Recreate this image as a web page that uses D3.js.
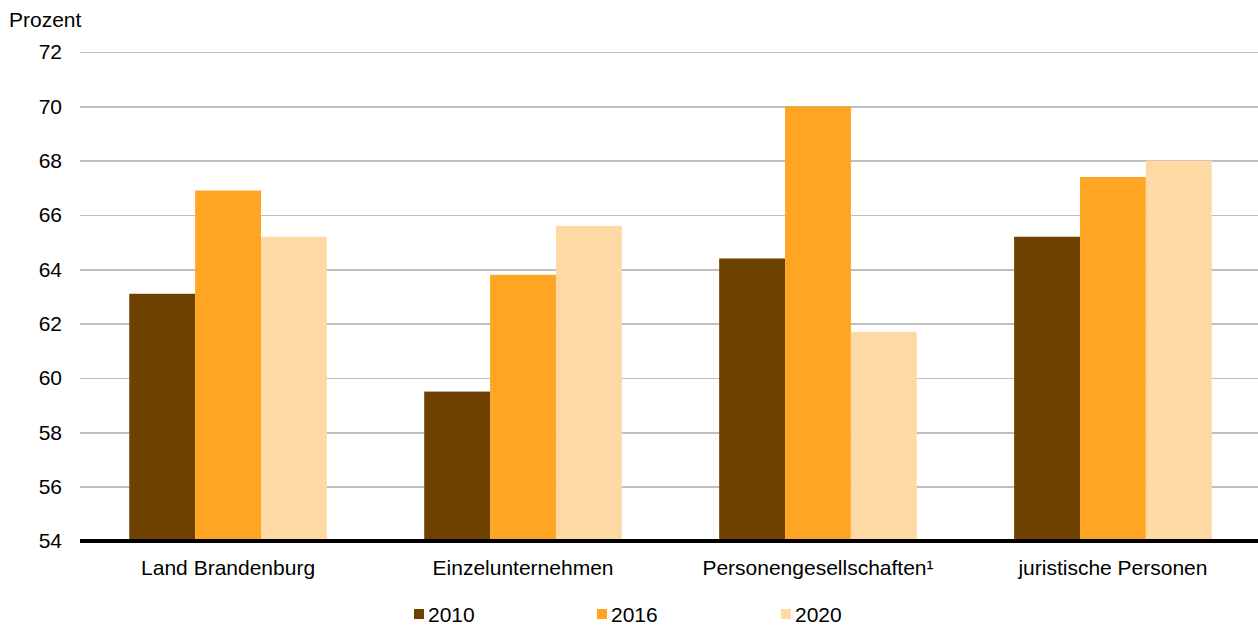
<!DOCTYPE html>
<meta charset="utf-8">
<title>Prozent</title>
<style>
    body {
        margin: 0;
        font: 21px "Liberation Sans", Arial, sans-serif;
        background: #fff;
    }
    .grid line {
        stroke: #bfbfbf;
        stroke-width: 1.5;
        shape-rendering: crispEdges;
    }
    .grid path { display: none; }
    text { fill: #000; }
</style>
<body>
<div id="chart"></div>
<script src="https://cdnjs.cloudflare.com/ajax/libs/d3/7.8.5/d3.min.js"></script>
<script>
var categories = ["Land Brandenburg", "Einzelunternehmen", "Personengesellschaften\u00b9", "juristische Personen"];
var years = ["2010", "2016", "2020"];
var values2010 = [63.1, 59.5, 64.4, 65.2];
var values2016 = [66.9, 63.8, 70.0, 67.4];
var values2020 = [65.2, 65.6, 61.7, 68.0];
var yTicks = [54, 56, 58, 60, 62, 64, 66, 68, 70, 72];
var colors = ["#6e4100", "#fea623", "#fed9a3"];

var series = [values2010, values2016, values2020];
var rows = categories.map(function(c, i) {
    return { cat: c, vals: years.map(function(y, j) { return { year: y, v: series[j][i], k: j }; }) };
});

var width = 1258, height = 625,
    margin = { top: 52, right: 0, bottom: 84, left: 80 };
var innerW = width - margin.left - margin.right,
    innerH = height - margin.top - margin.bottom;

var svg = d3.select("#chart").append("svg")
    .attr("width", width)
    .attr("height", height);

var g = svg.append("g")
    .attr("transform", "translate(" + margin.left + "," + margin.top + ")");

// category band runs slightly past the right edge, as in the original
var x0 = d3.scaleBand().domain(categories).range([0, innerW + 3])
    .paddingInner(0.33).paddingOuter(0.167);
var x1 = d3.scaleBand().domain(years).range([0, x0.bandwidth()]);
var y = d3.scaleLinear().domain([54, 72]).range([innerH, 0]);

// gridlines
g.append("g")
    .attr("class", "grid")
    .call(d3.axisLeft(y).tickValues(yTicks.slice(1)).tickSize(-innerW).tickFormat(""));

// y axis labels
g.append("g")
    .attr("class", "y axis")
    .call(d3.axisLeft(y).tickValues(yTicks).tickSize(0).tickPadding(18))
    .call(function(a) { a.selectAll("text").style("font-size", "21px").attr("fill", "#000"); })
    .call(function(a) { a.select(".domain").remove(); });

// bars
var grp = g.selectAll(".cat")
    .data(rows)
    .enter().append("g")
    .attr("class", "cat")
    .attr("transform", function(d) { return "translate(" + x0(d.cat) + ",0)"; });

grp.selectAll("rect")
    .data(function(d) { return d.vals; })
    .enter().append("rect")
    .attr("x", function(d) { return x1(d.year); })
    .attr("y", function(d) { return y(d.v); })
    .attr("width", x1.bandwidth())
    .attr("height", function(d) { return innerH - y(d.v); })
    .style("fill", function(d) { return colors[d.k]; });

// baseline
g.append("line")
    .attr("x1", 0).attr("x2", innerW)
    .attr("y1", innerH).attr("y2", innerH)
    .style("stroke", "#000")
    .style("stroke-width", 4);

// x axis labels
g.append("g")
    .attr("class", "x axis")
    .attr("transform", "translate(0," + innerH + ")")
    .call(d3.axisBottom(x0).tickSize(0).tickPadding(19))
    .call(function(a) { a.selectAll("text").style("font-size", "21px").attr("fill", "#000"); })
    .call(function(a) { a.select(".domain").remove(); });

// unit label
svg.append("text")
    .attr("x", 9)
    .attr("y", 27)
    .style("font-size", "21px")
    .text("Prozent");

// legend
var legX = [414, 597, 781];
var leg = svg.selectAll(".legend")
    .data(years)
    .enter().append("g")
    .attr("class", "legend")
    .attr("transform", function(d, i) { return "translate(" + legX[i] + ",614)"; });
leg.append("rect")
    .attr("x", 0).attr("y", -5)
    .attr("width", 10).attr("height", 10)
    .style("fill", function(d, i) { return colors[i]; });
leg.append("text")
    .attr("x", 14)
    .attr("y", 0)
    .attr("dy", "0.36em")
    .style("font-size", "21px")
    .text(function(d) { return d; });
</script>
</body>
